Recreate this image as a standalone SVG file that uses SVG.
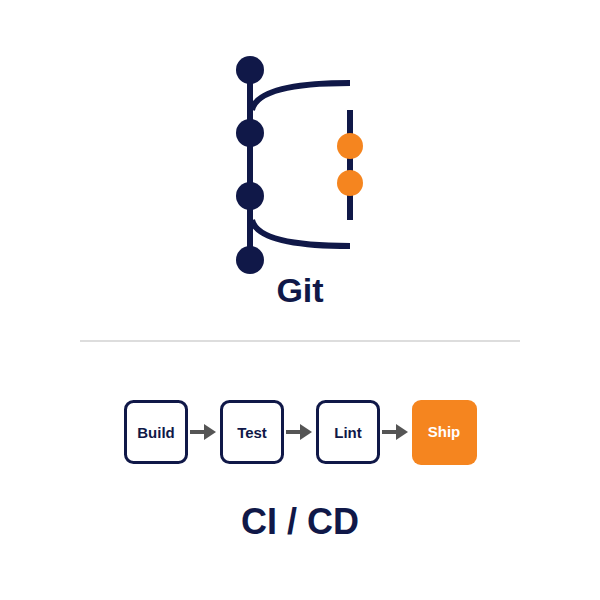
<svg xmlns="http://www.w3.org/2000/svg" width="600" height="600" viewBox="0 0 600 600">
<style>
.navy{fill:#101848}
.orange{fill:#f5851f}
.ln{stroke:#101848;stroke-width:6;fill:none}
.box{fill:#fff;stroke:#101848;stroke-width:3}
.lbl{font-family:"Liberation Sans",Arial,sans-serif;font-weight:bold;font-size:15px;text-anchor:middle;fill:#101848}
.title{font-family:"Liberation Sans",Arial,sans-serif;font-weight:bold;text-anchor:middle;fill:#101848}
.arr{stroke:#555;stroke-width:4;fill:none}
</style>
<defs>
<marker id="ah" markerWidth="4" markerHeight="4" refX="1" refY="2" orient="auto" markerUnits="strokeWidth">
<path d="M0,0 L3,2 L0,4 Z" fill="#555"/>
</marker>
</defs>
<rect width="600" height="600" fill="#fff"/>
<g id="git">
<line class="ln" x1="250" y1="70" x2="250" y2="260"/>
<path class="ln" d="M252 110 Q258 83 350 83"/>
<path class="ln" d="M252 220 Q258 246 350 246"/>
<line class="ln" x1="350" y1="110" x2="350" y2="220"/>
<circle class="navy" cx="250" cy="70" r="14"/>
<circle class="navy" cx="250" cy="133" r="14"/>
<circle class="navy" cx="250" cy="196" r="14"/>
<circle class="navy" cx="250" cy="260" r="14"/>
<circle class="orange" cx="350" cy="146" r="13"/>
<circle class="orange" cx="350" cy="183" r="13"/>
<text class="title" x="300" y="302" font-size="34">Git</text>
</g>
<line x1="80" y1="341" x2="520" y2="341" stroke="#dddddd" stroke-width="2"/>
<g id="connectors">
<line class="arr" x1="190" y1="432" x2="208" y2="432" marker-end="url(#ah)"/>
<line class="arr" x1="286" y1="432" x2="304" y2="432" marker-end="url(#ah)"/>
<line class="arr" x1="382" y1="432" x2="400" y2="432" marker-end="url(#ah)"/>
</g>
<g id="build"><rect class="box" x="125.5" y="401.5" width="61" height="61" rx="8"/><text class="lbl" x="156" y="437.5">Build</text></g>
<g id="test"><rect class="box" x="221.5" y="401.5" width="61" height="61" rx="8"/><text class="lbl" x="252" y="437.5">Test</text></g>
<g id="lint"><rect class="box" x="317.5" y="401.5" width="61" height="61" rx="8"/><text class="lbl" x="348" y="437.5">Lint</text></g>
<g id="ship"><rect class="orange" x="412" y="400" width="65" height="65" rx="9"/><text class="lbl" x="444" y="437" style="fill:#fff">Ship</text></g>
<text class="title" x="300" y="534" font-size="36">CI / CD</text>
</svg>
